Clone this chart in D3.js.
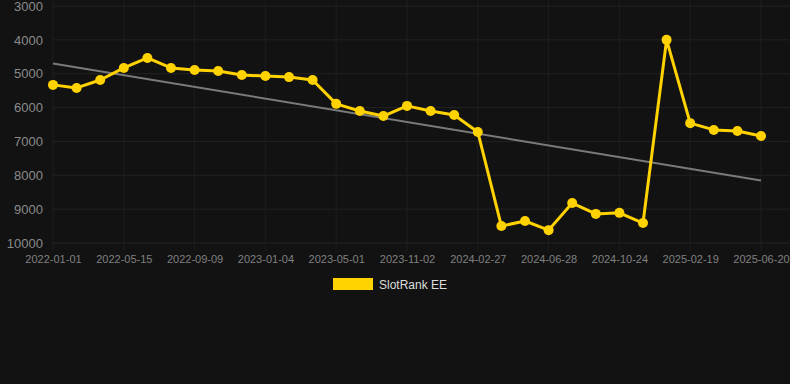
<!DOCTYPE html>
<html>
<head>
<meta charset="utf-8">
<script src="https://cdn.jsdelivr.net/npm/d3@7"></script>
<style>
  html, body { margin: 0; padding: 0; background: #121212; }
  svg { display: block; font-family: "Liberation Sans", Arial, sans-serif; }
</style>
</head>
<body>
<svg id="chart" width="790" height="384"></svg>
<script>
// categories (every third one is labelled on the axis)
var dates = [
    "2022-01-01", "2022-02-14", "2022-03-30", "2022-05-15", "2022-06-28", "2022-08-11",
    "2022-09-09", "2022-10-20", "2022-11-25", "2023-01-04", "2023-02-10", "2023-03-20",
    "2023-05-01", "2023-06-15", "2023-08-01", "2023-11-02", "2023-12-05", "2024-01-20",
    "2024-02-27", "2024-04-05", "2024-05-20", "2024-06-28", "2024-08-05", "2024-09-15",
    "2024-10-24", "2024-11-30", "2025-01-10", "2025-02-19", "2025-03-30", "2025-05-10",
    "2025-06-20"
];
var rankValues = [
    5330, 5420, 5185, 4830, 4535, 4830, 4890, 4920, 5040, 5070, 5100, 5185,
    5890, 6100, 6250, 5950, 6100, 6220, 6720, 9500, 9350, 9620, 8820, 9140,
    9110, 9410, 4000, 6460, 6660, 6690, 6840
];
var yTicks = [3000, 4000, 5000, 6000, 7000, 8000, 9000, 10000];
var seriesName = "SlotRank EE";

var margin = { left: 53, right: 29, top: 6, bottom: 141 };
var width = 790, height = 384;

var svg = d3.select("#chart");

var x = d3.scalePoint()
    .domain(dates)
    .range([margin.left, width - margin.right]);

var y = d3.scaleLinear()
    .domain([3000, 10000])
    .range([margin.top, height - margin.bottom]);

var labelled = dates.filter((d, i) => i % 3 === 0);

// grid
svg.append("g")
    .selectAll("line")
    .data(yTicks)
    .enter()
    .append("line")
    .attr("x1", margin.left)
    .attr("x2", width)
    .attr("y1", d => y(d))
    .attr("y2", d => y(d))
    .attr("stroke", "#222")
    .attr("stroke-width", 1);

svg.append("g")
    .selectAll("line")
    .data(labelled)
    .enter()
    .append("line")
    .attr("x1", d => x(d))
    .attr("x2", d => x(d))
    .attr("y1", 0)
    .attr("y2", y(10000) + 8)
    .attr("stroke", "#1e1e1e")
    .attr("stroke-width", 1);

// axes
var yAxis = svg.append("g")
    .attr("transform", "translate(" + (margin.left - 10) + ",0)")
    .call(d3.axisLeft(y).tickValues(yTicks).tickFormat(d3.format("d")).tickSize(0).tickPadding(0));
yAxis.select(".domain").remove();
yAxis.selectAll("text")
    .attr("fill", "#8a8a8a")
    .style("font-size", "13px");

var xAxis = svg.append("g")
    .attr("transform", "translate(0," + (y(10000) + 7) + ")")
    .call(d3.axisBottom(x).tickValues(labelled).tickSize(0).tickPadding(5));
xAxis.select(".domain").remove();
xAxis.selectAll("text")
    .attr("fill", "#808080")
    .style("font-size", "11px");

// trend line (least squares over the series)
var n = rankValues.length;
var meanI = (n - 1) / 2;
var meanV = d3.mean(rankValues);
var num = d3.sum(rankValues, (v, i) => (i - meanI) * (v - meanV));
var den = d3.sum(rankValues, (v, i) => (i - meanI) * (i - meanI));
var slope = num / den;
var trend = [0, n - 1].map(i => ({ date: dates[i], value: meanV + slope * (i - meanI) }));

svg.append("path")
    .datum(trend)
    .attr("fill", "none")
    .attr("stroke", "#7a7a7a")
    .attr("stroke-width", 2)
    .attr("d", d3.line().x(d => x(d.date)).y(d => y(d.value)));

// series
var points = dates.map((d, i) => ({ date: d, value: rankValues[i] }));

svg.append("path")
    .datum(points)
    .attr("fill", "none")
    .attr("stroke", "#FFD200")
    .attr("stroke-width", 3)
    .attr("stroke-linejoin", "round")
    .attr("d", d3.line().x(d => x(d.date)).y(d => y(d.value)));

svg.append("g")
    .selectAll("circle")
    .data(points)
    .enter()
    .append("circle")
    .attr("cx", d => x(d.date))
    .attr("cy", d => y(d.value))
    .attr("r", 5)
    .attr("fill", "#FFD200");

// legend
var legend = svg.append("g").attr("transform", "translate(333,278)");
legend.append("rect")
    .attr("width", 40)
    .attr("height", 12)
    .attr("fill", "#FFD200");
legend.append("text")
    .attr("x", 46)
    .attr("y", 10.5)
    .attr("fill", "#dddddd")
    .style("font-size", "12px")
    .text(seriesName);
</script>
</body>
</html>
